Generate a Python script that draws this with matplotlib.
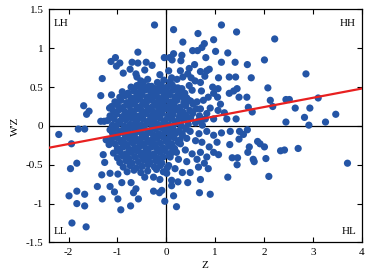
# -*- coding: utf-8 -*-
import numpy as np
import matplotlib
matplotlib.use('Agg')
import matplotlib.pyplot as plt

plt.rcParams['font.family'] = 'Liberation Serif'
plt.rcParams['axes.unicode_minus'] = False

# scattered points (Z, W'Z)
outer = [
    (-0.24, 1.30), (0.15, 1.24), (1.13, 1.30), (1.44, 1.21), (0.65, 1.19), (2.22, 1.12),
    (0.34, 1.08), (0.97, 1.11), (0.78, 1.06), (0.73, 1.01), (-0.58, 0.95), (0.54, 0.97),
    (0.64, 0.97), (1.01, 0.96), (1.26, 0.94), (-1.04, 0.88), (-1.13, 0.83), (-0.95, 0.81),
    (-1.02, 0.77), (-0.04, 0.88), (0.07, 0.88), (0.15, 0.93), (0.32, 0.91), (0.12, 0.85),
    (0.30, 0.84), (0.81, 0.88), (1.13, 0.82), (1.41, 0.82), (1.66, 0.79), (2.01, 0.85),
    (-0.70, 0.82), (-0.58, 0.81), (-0.41, 0.82), (-0.29, 0.78), (-0.74, 0.73), (-0.62, 0.67),
    (-0.60, 0.63), (-0.44, 0.72), (-0.88, 0.68), (-1.31, 0.61), (-1.34, 0.39), (-1.69, 0.26),
    (-1.58, 0.19), (-1.63, 0.15), (-1.12, 0.40), (-1.16, 0.23), (-0.78, 0.42), (-0.57, 0.51),
    (-0.47, 0.56), (-0.30, 0.51), (-0.13, 0.66), (0.05, 0.71), (0.11, 0.62), (0.29, 0.71),
    (0.47, 0.74), (0.58, 0.79), (0.70, 0.70), (0.88, 0.73), (1.07, 0.62), (1.29, 0.63),
    (1.42, 0.63), (1.74, 0.62), (2.86, 0.67), (2.08, 0.49), (1.06, 0.48), (1.45, 0.48),
    (1.49, 0.37), (1.65, 0.37), (1.68, 0.24), (1.76, 0.18), (2.13, 0.33), (2.18, 0.25),
    (2.45, 0.34), (2.52, 0.34), (2.64, 0.23), (2.83, 0.11), (2.94, 0.23), (3.11, 0.36),
    (3.47, 0.15), (3.26, 0.05), (2.92, 0.01), (2.45, 0.05), (1.29, 0.42), (1.38, 0.45),
    (0.90, 0.23), (1.06, 0.20), (1.24, 0.09), (1.43, 0.09),
    (1.13, -0.09), (1.31, -0.07), (1.50, -0.07), (1.66, -0.05), (1.58, -0.11), (1.49, -0.17),
    (1.30, -0.24), (1.04, -0.21), (0.88, -0.27), (1.07, -0.37), (1.35, -0.41), (1.46, -0.41),
    (1.45, -0.50), (1.70, -0.27), (1.67, -0.34), (1.87, -0.20), (1.92, -0.23), (2.01, -0.27),
    (1.78, -0.43), (1.80, -0.46), (2.04, -0.42), (2.34, -0.32), (2.42, -0.31), (2.70, -0.29),
    (3.71, -0.48), (2.10, -0.65), (1.26, -0.66), (0.68, -0.86), (0.90, -0.88), (0.15, -0.90),
    (0.21, -1.04), (-0.03, -0.97), (0.70, -0.69), (0.44, -0.73), (0.24, -0.72), (0.11, -0.77),
    (0.33, -0.60), (0.49, -0.60), (0.66, -0.53), (0.86, -0.55), (0.42, -0.46), (0.63, -0.43),
    (0.78, -0.48),
    (-2.20, -0.11), (-1.94, -0.23), (-1.96, -0.55), (-1.83, -0.48), (-1.80, -0.04), (-1.67, -0.04),
    (-1.99, -0.90), (-1.83, -0.84), (-1.83, -1.00), (-1.67, -0.88), (-1.67, -1.03), (-1.93, -1.25),
    (-1.64, -1.30), (-1.41, -0.78), (-1.32, -0.63), (-1.31, -0.94), (-1.15, -0.78), (-1.06, -0.85),
    (-0.99, -0.94), (-0.93, -1.08), (-0.73, -1.03), (-0.57, -0.94), (-1.15, -0.61), (-0.99, -0.62),
    (-0.91, -0.73), (-0.72, -0.73), (-0.67, -0.86), (-0.62, -0.81), (-0.44, -0.66), (-0.26, -0.84),
    (-0.14, -0.86), (-0.09, -0.83), (-0.13, -0.69), (-0.26, -0.66), (-1.29, -0.37), (-1.26, -0.47),
    (-1.17, -0.24), (-1.23, -0.18), (-1.10, -0.09), (-1.34, 0.06), (-1.27, 0.06),
]

# medium density points right of Z = 0
middle = [
    (0.34, 0.63), (0.44, 0.67), (0.51, 0.62), (0.59, 0.58), (0.70, 0.56), (0.83, 0.71),
    (0.79, 0.64), (0.95, 0.50), (0.47, 0.52), (0.53, 0.46), (0.72, 0.45), (0.86, 0.37),
    (0.97, 0.42), (1.05, 0.37), (0.76, 0.33), (0.63, 0.31), (0.46, 0.33), (0.34, 0.37),
    (0.25, 0.41), (0.32, 0.48), (0.18, 0.49), (0.70, 0.22), (0.53, 0.18), (0.83, 0.16),
    (0.97, 0.09), (0.73, 0.08), (0.42, 0.11), (0.29, 0.16), (0.15, 0.25), (1.11, 0.28),
    (1.19, 0.17),
    (0.15, -0.08), (0.32, -0.10), (0.49, -0.07), (0.67, -0.10), (0.83, -0.07), (0.97, -0.12),
    (0.42, -0.16), (0.60, -0.19), (0.73, -0.21), (0.29, -0.23), (0.11, -0.27), (0.21, -0.34),
    (0.39, -0.31), (0.53, -0.36), (0.70, -0.34), (0.83, -0.40), (0.97, -0.34), (0.08, -0.40),
    (0.25, -0.43), (0.05, -0.51), (0.18, -0.55), (0.01, -0.61), (0.11, -0.70),
]

# dense core around the origin
core = [
    (-0.52, 0.58), (-0.38, 0.60), (-0.18, 0.56), (-0.05, 0.59), (0.08, 0.57), (0.22, 0.60),
    (-0.72, 0.50), (-0.60, 0.52), (-0.48, 0.49), (-0.36, 0.51), (-0.22, 0.48), (-0.10, 0.52),
    (0.02, 0.50), (0.12, 0.53), (0.24, 0.49),
    (-0.90, 0.44), (-0.78, 0.42), (-0.66, 0.45), (-0.55, 0.43), (-0.44, 0.46), (-0.32, 0.44),
    (-0.20, 0.42), (-0.08, 0.45), (0.04, 0.43), (0.14, 0.46), (0.26, 0.44), (0.38, 0.42),
    (-0.95, 0.37), (-0.84, 0.39), (-0.72, 0.36), (-0.61, 0.38), (-0.50, 0.40), (-0.39, 0.37),
    (-0.28, 0.39), (-0.16, 0.36), (-0.05, 0.38), (0.07, 0.40), (0.18, 0.37), (0.30, 0.39), (0.42, 0.36),
    (-1.05, 0.31), (-0.93, 0.33), (-0.81, 0.30), (-0.70, 0.32), (-0.58, 0.34), (-0.47, 0.31),
    (-0.35, 0.33), (-0.24, 0.30), (-0.12, 0.32), (-0.01, 0.34), (0.10, 0.31), (0.22, 0.33),
    (0.36, 0.30), (0.50, 0.32),
    (-1.12, 0.25), (-1.00, 0.27), (-0.88, 0.24), (-0.76, 0.26), (-0.65, 0.28), (-0.53, 0.25),
    (-0.42, 0.27), (-0.30, 0.24), (-0.19, 0.26), (-0.07, 0.28), (0.04, 0.25), (0.16, 0.27),
    (0.28, 0.24), (0.40, 0.26), (0.55, 0.28),
    (-1.08, 0.19), (-0.96, 0.21), (-0.84, 0.18), (-0.72, 0.20), (-0.60, 0.22), (-0.49, 0.19),
    (-0.37, 0.21), (-0.26, 0.18), (-0.14, 0.20), (-0.02, 0.22), (0.09, 0.19), (0.21, 0.21),
    (0.34, 0.18), (0.48, 0.20), (0.62, 0.22),
    (-1.15, 0.13), (-1.02, 0.15), (-0.90, 0.12), (-0.78, 0.14), (-0.67, 0.16), (-0.55, 0.13),
    (-0.44, 0.15), (-0.32, 0.12), (-0.21, 0.14), (-0.09, 0.16), (0.03, 0.13), (0.14, 0.15),
    (0.27, 0.12), (0.40, 0.14), (0.54, 0.16), (0.68, 0.13),
    (-1.20, 0.07), (-1.07, 0.09), (-0.95, 0.06), (-0.83, 0.08), (-0.71, 0.10), (-0.60, 0.07),
    (-0.48, 0.09), (-0.37, 0.06), (-0.25, 0.08), (-0.13, 0.10), (-0.02, 0.07), (0.10, 0.09),
    (0.22, 0.06), (0.35, 0.08), (0.50, 0.10), (0.66, 0.07), (0.80, 0.09),
    (-1.10, 0.01), (-0.98, 0.03), (-0.86, 0.00), (-0.74, 0.02), (-0.63, 0.04), (-0.51, 0.01),
    (-0.40, 0.03), (-0.28, 0.00), (-0.17, 0.02), (-0.05, 0.04), (0.06, 0.01), (0.18, 0.03),
    (0.31, 0.00), (0.45, 0.02), (0.60, 0.04), (0.74, 0.01),
    (-1.15, -0.05), (-1.03, -0.03), (-0.91, -0.06), (-0.79, -0.04), (-0.68, -0.02), (-0.56, -0.05),
    (-0.45, -0.03), (-0.33, -0.06), (-0.22, -0.04), (-0.10, -0.02), (0.01, -0.05), (0.13, -0.03),
    (0.26, -0.06), (0.40, -0.04),
    (-1.08, -0.11), (-0.96, -0.09), (-0.84, -0.12), (-0.72, -0.10), (-0.61, -0.08), (-0.49, -0.11),
    (-0.38, -0.09), (-0.26, -0.12), (-0.15, -0.10), (-0.03, -0.08), (0.08, -0.11), (0.20, -0.09),
    (0.33, -0.12),
    (-1.12, -0.17), (-1.00, -0.15), (-0.88, -0.18), (-0.76, -0.16), (-0.65, -0.14), (-0.53, -0.17),
    (-0.42, -0.15), (-0.30, -0.18), (-0.19, -0.16), (-0.07, -0.14), (0.04, -0.17), (0.16, -0.15),
    (0.28, -0.18),
    (-1.05, -0.23), (-0.93, -0.21), (-0.81, -0.24), (-0.69, -0.22), (-0.58, -0.20), (-0.46, -0.23),
    (-0.35, -0.21), (-0.23, -0.24), (-0.12, -0.22), (0.00, -0.20), (0.11, -0.23), (0.24, -0.21),
    (-1.00, -0.29), (-0.88, -0.27), (-0.76, -0.30), (-0.64, -0.28), (-0.53, -0.26), (-0.41, -0.29),
    (-0.30, -0.27), (-0.18, -0.30), (-0.07, -0.28), (0.05, -0.26), (0.17, -0.29),
    (-1.08, -0.35), (-0.95, -0.33), (-0.83, -0.36), (-0.71, -0.34), (-0.60, -0.32), (-0.48, -0.35),
    (-0.37, -0.33), (-0.25, -0.36), (-0.13, -0.34), (-0.02, -0.32), (0.10, -0.35),
    (-1.00, -0.41), (-0.88, -0.39), (-0.76, -0.42), (-0.64, -0.40), (-0.52, -0.38), (-0.41, -0.41),
    (-0.29, -0.39), (-0.17, -0.42), (-0.06, -0.40), (0.06, -0.38),
    (-0.95, -0.47), (-0.82, -0.45), (-0.70, -0.48), (-0.57, -0.46), (-0.45, -0.44), (-0.33, -0.47),
    (-0.21, -0.45), (-0.09, -0.48),
    (-0.88, -0.53), (-0.74, -0.51), (-0.61, -0.54), (-0.49, -0.52), (-0.37, -0.50), (-0.24, -0.53),
    (-0.12, -0.51), (0.02, -0.54),
    (-0.80, -0.59), (-0.66, -0.57), (-0.52, -0.60), (-0.38, -0.58), (-0.20, -0.56), (-0.06, -0.59),
]

# extra points where the core is saturated
fill = [
    (-0.66, 0.47), (-0.42, 0.48), (-0.14, 0.47), (-0.30, 0.35), (-0.55, 0.35), (-0.78, 0.29),
    (-0.44, 0.29), (-0.13, 0.23), (-0.40, 0.18), (-0.66, 0.11), (-0.30, 0.04), (-0.55, -0.01),
    (-0.80, -0.07), (-0.20, -0.13), (-0.46, -0.13), (-0.70, -0.19), (-0.28, -0.24), (-0.58, -0.30),
    (-0.35, -0.38), (-0.12, -0.31), (0.08, 0.28), (0.02, -0.02), (-0.05, 0.42), (0.12, 0.12),
]

# fitted line (Moran's I slope)
slope = 0.119
intercept = 0.005

xticks = [-2, -1, 0, 1, 2, 3, 4]
yticks = [-1.5, -1, -0.5, 0, 0.5, 1, 1.5]
quadrants = ['LH', 'HH', 'LL', 'HL']

pts = np.array(outer + middle + core + fill)

fig = plt.figure(figsize=(3.74, 2.78), dpi=100)
ax = fig.add_axes([0.131, 0.128, 0.836, 0.838])

ax.scatter(pts[:, 0], pts[:, 1], s=27, color='#2455a6', edgecolors='none', zorder=3)
ax.axhline(0, color='black', lw=0.9, zorder=2)
ax.axvline(0, color='black', lw=0.9, zorder=2)

xl = np.array([-2.4, 4.0])
ax.plot(xl, slope * xl + intercept, color='#e82020', lw=1.6, zorder=4)

ax.set_xlim(-2.4, 4)
ax.set_ylim(-1.5, 1.5)
ax.set_xticks(xticks)
ax.set_yticks(yticks)
ax.set_xticklabels([f'{t:g}' for t in xticks])
ax.set_yticklabels([f'{t:g}' for t in yticks])
ax.tick_params(direction='in', length=3.5, width=0.8, labelsize=8,
               top=True, right=True, pad=4)
for sp in ax.spines.values():
    sp.set_linewidth(0.9)

ax.set_xlabel('Z', fontsize=8, labelpad=3)
ax.set_ylabel("W'Z", fontsize=8, labelpad=4)

ax.text(0.016, 0.94, quadrants[0], transform=ax.transAxes, fontsize=8, va='center', ha='left')
ax.text(0.982, 0.94, quadrants[1], transform=ax.transAxes, fontsize=8, va='center', ha='right')
ax.text(0.016, 0.045, quadrants[2], transform=ax.transAxes, fontsize=8, va='center', ha='left')
ax.text(0.982, 0.045, quadrants[3], transform=ax.transAxes, fontsize=8, va='center', ha='right')

fig.savefig('out.png', dpi=100)
